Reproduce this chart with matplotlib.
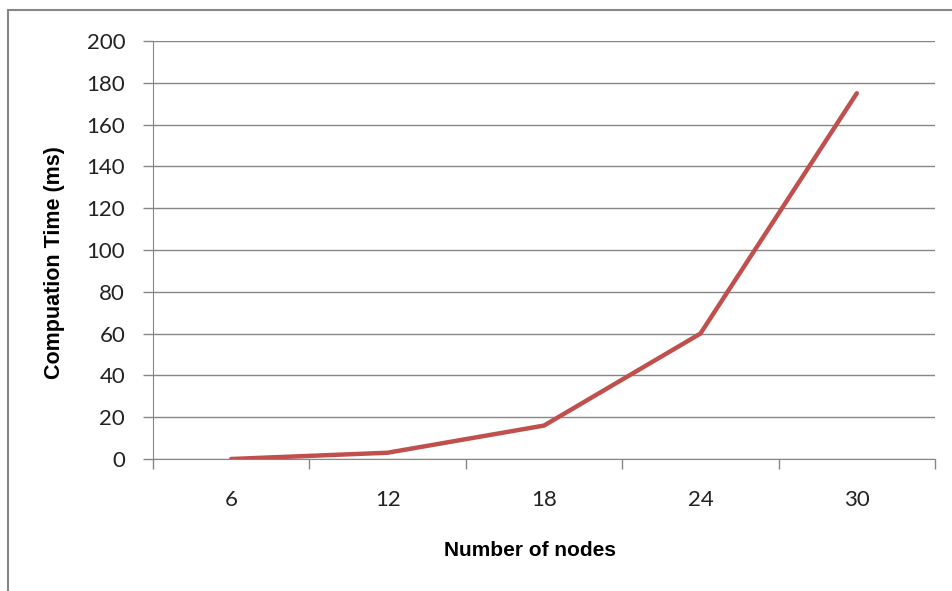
import numpy as np
import matplotlib.pyplot as plt
from matplotlib.patches import Rectangle

# datos
nodes = ['6', '12', '18', '24', '30']
comp_time = [0, 3, 16, 60, 175]
yticks = [0, 20, 40, 60, 80, 100, 120, 140, 160, 180, 200]

plt.rcParams['font.family'] = ['Lato', 'DejaVu Sans']

fig = plt.figure(figsize=(9.53, 5.91), dpi=100)
ax = fig.add_axes([153/953, 1 - 459/591, (935 - 153)/953, (459 - 41)/591])

x = np.arange(len(nodes))
ax.plot(x, comp_time, color='#C0504D', lw=3.2, solid_capstyle='round', zorder=3)

ax.set_xlim(-0.5, len(nodes) - 0.5)
ax.set_ylim(0, 200)
ax.set_yticks(yticks)
ax.set_yticklabels([str(v) for v in yticks], fontsize=16, color='#222222')
ax.set_xticks(x)
ax.set_xticklabels(nodes, fontsize=16, color='#222222')
ax.tick_params(axis='x', length=0, pad=22)
ax.set_xticks(np.arange(-0.5, len(nodes)), minor=True)
ax.tick_params(axis='x', which='minor', length=7, color='#868686', width=1)
ax.tick_params(axis='y', length=7, color='#868686', width=1, pad=13)

ax.grid(axis='y', color='#868686', lw=1)
ax.set_axisbelow(True)
for s in ['top', 'right']:
    ax.spines[s].set_visible(False)
for s in ['left', 'bottom']:
    ax.spines[s].set_color('#868686')

fig.text(55/953, 1 - 263/591, 'Compuation Time (ms)', rotation=90, ha='center', va='center',
         fontsize=15.5, fontweight='bold', family='Liberation Sans')
fig.text(530/953, 1 - 551/591, 'Number of nodes', ha='center', va='center',
         fontsize=15, fontweight='bold', family='Liberation Sans')

# marco
fig.patches.append(Rectangle((8/953, -0.1), 1.1, 1 - 10/591 + 0.1, transform=fig.transFigure,
                             fill=False, edgecolor='#868686', lw=1.5, clip_on=False))

fig.savefig('out.png', dpi=100)
